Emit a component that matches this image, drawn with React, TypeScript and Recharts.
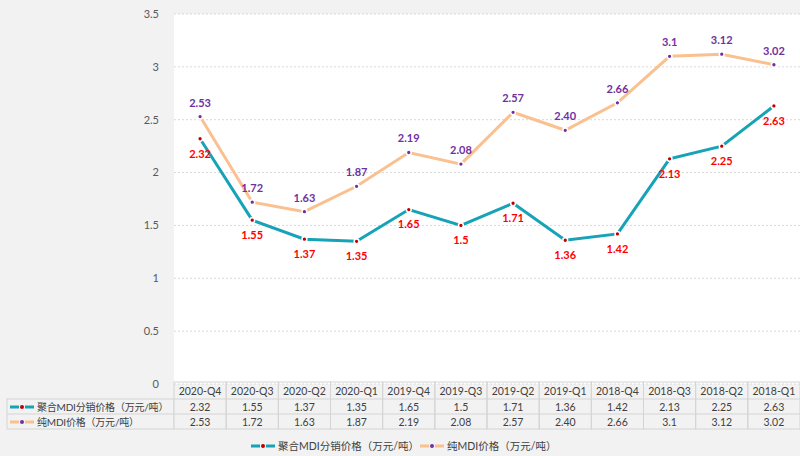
import { LineChart, Line, XAxis, YAxis, CartesianGrid, LabelList, Legend } from "recharts";

const quarters = [
  "2020-Q4", "2020-Q3", "2020-Q2", "2020-Q1",
  "2019-Q4", "2019-Q3", "2019-Q2", "2019-Q1",
  "2018-Q4", "2018-Q3", "2018-Q2", "2018-Q1",
];
// values kept as printed in the source (mixed decimals)
const polymericPrice = ["2.32", "1.55", "1.37", "1.35", "1.65", "1.5", "1.71", "1.36", "1.42", "2.13", "2.25", "2.63"];
const pureMdiPrice = ["2.53", "1.72", "1.63", "1.87", "2.19", "2.08", "2.57", "2.40", "2.66", "3.1", "3.12", "3.02"];
const yTicks = [0, 0.5, 1, 1.5, 2, 2.5, 3, 3.5];

const seriesNames = ["聚合MDI分销价格（万元/吨）", "纯MDI价格（万元/吨）"];

const TEAL = "#17a3b7";
const PEACH = "#fac090";
const RED_DOT = "#c00000";
const PURPLE = "#7030a0";
const FONT = "Lato, 'Noto Sans CJK SC', sans-serif";

const W = 800;
const H = 456;
const PLOT_LEFT = 174;
const PLOT_TOP = 14;
const PLOT_BOTTOM = 382;
const LEGEND_H = 16;
const COL_W = (W - PLOT_LEFT) / quarters.length;
const ROW = [382, 399, 414, 429];

const data = quarters.map((q, i) => ({
  q,
  poly: parseFloat(polymericPrice[i]),
  pure: parseFloat(pureMdiPrice[i]),
  polyLabel: polymericPrice[i],
  pureLabel: pureMdiPrice[i],
}));

function TableTick(props: any) {
  const { x, payload } = props;
  const i = payload.index;
  const left = x - COL_W / 2;
  return (
    <g>
      <rect x={left} y={ROW[0]} width={COL_W} height={ROW[3] - ROW[0]} fill="none" stroke="#d4d4d4" />
      <line x1={left} x2={left + COL_W} y1={ROW[1]} y2={ROW[1]} stroke="#d4d4d4" />
      <line x1={left} x2={left + COL_W} y1={ROW[2]} y2={ROW[2]} stroke="#d4d4d4" />
      <text x={x} y={(ROW[0] + ROW[1]) / 2 + 4} textAnchor="middle" fontSize={10.5} fill="#404040" fontFamily={FONT}>
        {quarters[i]}
      </text>
      <text x={x} y={(ROW[1] + ROW[2]) / 2 + 4} textAnchor="middle" fontSize={10.5} fill="#404040" fontFamily={FONT}>
        {polymericPrice[i]}
      </text>
      <text x={x} y={(ROW[2] + ROW[3]) / 2 + 4} textAnchor="middle" fontSize={10.5} fill="#404040" fontFamily={FONT}>
        {pureMdiPrice[i]}
      </text>
    </g>
  );
}

function Swatch({ x, y, color, dot }: { x: number; y: number; color: string; dot: string }) {
  return (
    <g>
      <line x1={x} x2={x + 9} y1={y} y2={y} stroke={color} strokeWidth={3} />
      <line x1={x + 15} x2={x + 24} y1={y} y2={y} stroke={color} strokeWidth={3} />
      <circle cx={x + 12} cy={y} r={2} fill={dot} />
    </g>
  );
}

function LegendContent() {
  return (
    <svg width={W} height={LEGEND_H} style={{ display: "block" }}>
      <Swatch x={251} y={8} color={TEAL} dot={RED_DOT} />
      <text x={278} y={12} fontSize={10.5} fill="#404040" fontFamily={FONT}>{seriesNames[0]}</text>
      <Swatch x={420} y={8} color={PEACH} dot={PURPLE} />
      <text x={447} y={12} fontSize={10.5} fill="#404040" fontFamily={FONT}>{seriesNames[1]}</text>
    </svg>
  );
}

const dotStyle = (fill: string) => ({ r: 2.4, fill, stroke: "#fff", strokeWidth: 1.5 });

export default function App() {
  return (
    <div style={{ position: "relative", width: W, height: H, background: "#f2f2f2" }}>
      <style>{"body{margin:0}"}</style>
      <LineChart
        width={W}
        height={H}
        data={data}
        margin={{ top: PLOT_TOP, right: 0, left: 0, bottom: 0 }}
        style={{ fontFamily: FONT }}
      >
        <CartesianGrid vertical={false} fill="#ffffff" stroke="#d9d9d9" strokeDasharray="2 2" />
        <XAxis
          dataKey="q"
          height={H - PLOT_BOTTOM - LEGEND_H - 2}
          axisLine={false}
          tickLine={false}
          padding={{ left: COL_W / 2, right: COL_W / 2 }}
          interval={0}
          tick={<TableTick />}
        />
        <YAxis
          width={PLOT_LEFT}
          domain={[0, 3.5]}
          ticks={yTicks}
          axisLine={false}
          tickLine={false}
          tickMargin={9}
          tick={{ fontSize: 11, fill: "#595959", fontFamily: FONT }}
        />
        <Legend verticalAlign="bottom" wrapperStyle={{ bottom: 2, left: 0 }} content={<LegendContent />} />
        <Line
          dataKey="pure"
          name={seriesNames[1]}
          stroke={PEACH}
          strokeWidth={3}
          dot={dotStyle(PURPLE)}
          isAnimationActive={false}
        >
          <LabelList dataKey="pureLabel" position="top" offset={10} fill={PURPLE} fontSize={11} fontWeight="bold" />
        </Line>
        <Line
          dataKey="poly"
          name={seriesNames[0]}
          stroke={TEAL}
          strokeWidth={3}
          dot={dotStyle(RED_DOT)}
          isAnimationActive={false}
        >
          <LabelList dataKey="polyLabel" position="bottom" offset={11} fill="#ff0000" fontSize={11} fontWeight="bold" />
        </Line>
      </LineChart>
      <svg width={PLOT_LEFT} height={60} style={{ position: "absolute", left: 0, top: ROW[1] - 1 }}>
        <rect x={7} y={1} width={PLOT_LEFT - 7} height={ROW[3] - ROW[1]} fill="none" stroke="#d4d4d4" />
        <line x1={7} x2={PLOT_LEFT} y1={ROW[2] - ROW[1] + 1} y2={ROW[2] - ROW[1] + 1} stroke="#d4d4d4" />
        <Swatch x={10} y={9} color={TEAL} dot={RED_DOT} />
        <text x={37} y={13} fontSize={10} letterSpacing={-0.2} fill="#404040" fontFamily={FONT}>{seriesNames[0]}</text>
        <Swatch x={10} y={24} color={PEACH} dot={PURPLE} />
        <text x={37} y={28} fontSize={10} letterSpacing={-0.2} fill="#404040" fontFamily={FONT}>{seriesNames[1]}</text>
      </svg>
    </div>
  );
}
